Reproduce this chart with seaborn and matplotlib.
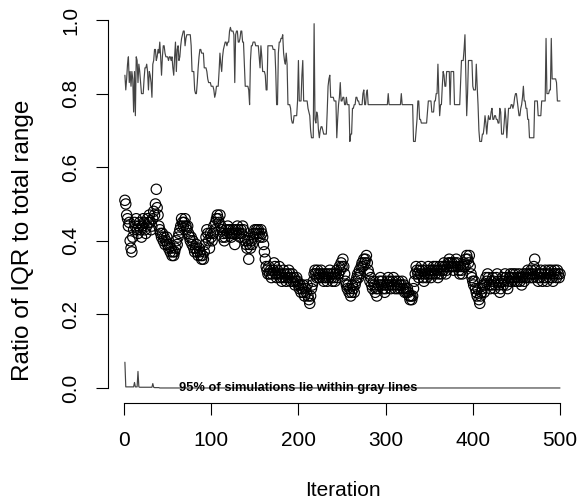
import numpy as np
import pandas as pd
import matplotlib
matplotlib.use("Agg")
import matplotlib.pyplot as plt
import seaborn as sns

# ---------------- data ----------------
iqr_ratio = [
    0.51, 0.50, 0.47, 0.46, 0.44, 0.45, 0.40, 0.38, 0.37, 0.41, 0.43, 0.45, 0.44, 0.46, 0.43, 0.42, 0.44, 0.45, 0.43, 0.41, 0.44, 0.46, 0.45, 0.43, 0.42,
    0.44, 0.46, 0.45, 0.47, 0.45, 0.43, 0.44, 0.46, 0.48, 0.47, 0.50, 0.54, 0.49, 0.47, 0.44, 0.43, 0.42, 0.41, 0.42, 0.40, 0.41, 0.39, 0.40, 0.41, 0.39,
    0.38, 0.39, 0.37, 0.38, 0.36, 0.37, 0.36, 0.37, 0.38, 0.40, 0.39, 0.41, 0.42, 0.43, 0.44, 0.46, 0.45, 0.44, 0.45, 0.46, 0.44, 0.43, 0.44, 0.42, 0.41,
    0.40, 0.41, 0.39, 0.40, 0.38, 0.37, 0.38, 0.39, 0.37, 0.36, 0.38, 0.37, 0.36, 0.35, 0.36, 0.35, 0.37, 0.39, 0.41, 0.43, 0.42, 0.40, 0.38, 0.42, 0.41,
    0.40, 0.42, 0.44, 0.43, 0.45, 0.46, 0.47, 0.46, 0.45, 0.47, 0.44, 0.43, 0.41, 0.42, 0.40, 0.41, 0.43, 0.42, 0.44, 0.43, 0.42, 0.43, 0.41, 0.42, 0.43,
    0.42, 0.39, 0.43, 0.42, 0.44, 0.43, 0.42, 0.41, 0.43, 0.42, 0.44, 0.43, 0.41, 0.40, 0.39, 0.38, 0.40, 0.35, 0.39, 0.38, 0.40, 0.39, 0.41, 0.42, 0.43,
    0.42, 0.43, 0.42, 0.43, 0.42, 0.41, 0.43, 0.42, 0.41, 0.39, 0.37, 0.35, 0.33, 0.32, 0.31, 0.33, 0.31, 0.32, 0.30, 0.31, 0.32, 0.34, 0.33, 0.31, 0.30,
    0.32, 0.31, 0.33, 0.30, 0.31, 0.29, 0.30, 0.32, 0.31, 0.30, 0.29, 0.31, 0.30, 0.32, 0.31, 0.29, 0.30, 0.31, 0.29, 0.30, 0.28, 0.29, 0.30, 0.29, 0.28,
    0.27, 0.28, 0.26, 0.27, 0.28, 0.26, 0.25, 0.27, 0.26, 0.28, 0.25, 0.24, 0.23, 0.25, 0.27, 0.28, 0.29, 0.31, 0.32, 0.31, 0.30, 0.32, 0.31, 0.30, 0.31,
    0.32, 0.30, 0.31, 0.29, 0.30, 0.31, 0.30, 0.29, 0.31, 0.30, 0.32, 0.31, 0.30, 0.29, 0.31, 0.30, 0.29, 0.31, 0.32, 0.30, 0.31, 0.33, 0.32, 0.34, 0.33,
    0.35, 0.33, 0.31, 0.29, 0.28, 0.27, 0.28, 0.26, 0.27, 0.25, 0.26, 0.28, 0.27, 0.26, 0.28, 0.29, 0.30, 0.31, 0.30, 0.32, 0.31, 0.33, 0.34, 0.33, 0.35,
    0.34, 0.35, 0.36, 0.34, 0.32, 0.31, 0.29, 0.30, 0.28, 0.27, 0.29, 0.28, 0.26, 0.27, 0.25, 0.27, 0.28, 0.29, 0.30, 0.28, 0.29, 0.27, 0.28, 0.26, 0.27,
    0.28, 0.29, 0.30, 0.28, 0.29, 0.27, 0.28, 0.29, 0.30, 0.28, 0.27, 0.29, 0.28, 0.27, 0.29, 0.28, 0.27, 0.28, 0.29, 0.27, 0.28, 0.26, 0.27, 0.26, 0.27,
    0.26, 0.25, 0.24, 0.25, 0.24, 0.25, 0.27, 0.29, 0.31, 0.33, 0.32, 0.31, 0.30, 0.32, 0.31, 0.33, 0.32, 0.30, 0.29, 0.31, 0.32, 0.30, 0.31, 0.33, 0.32,
    0.31, 0.30, 0.32, 0.31, 0.33, 0.32, 0.31, 0.33, 0.32, 0.30, 0.31, 0.33, 0.32, 0.31, 0.33, 0.32, 0.34, 0.33, 0.31, 0.32, 0.33, 0.34, 0.35, 0.34, 0.33,
    0.34, 0.33, 0.32, 0.34, 0.33, 0.35, 0.34, 0.33, 0.32, 0.31, 0.33, 0.32, 0.31, 0.33, 0.34, 0.33, 0.35, 0.36, 0.35, 0.34, 0.36, 0.33, 0.31, 0.30, 0.29,
    0.28, 0.29, 0.27, 0.26, 0.25, 0.27, 0.24, 0.23, 0.25, 0.26, 0.27, 0.28, 0.26, 0.28, 0.30, 0.29, 0.31, 0.30, 0.28, 0.27, 0.29, 0.28, 0.30, 0.29, 0.27,
    0.28, 0.30, 0.31, 0.29, 0.28, 0.26, 0.27, 0.29, 0.30, 0.28, 0.29, 0.31, 0.30, 0.28, 0.27, 0.29, 0.30, 0.31, 0.29, 0.30, 0.31, 0.30, 0.29, 0.31, 0.30,
    0.29, 0.30, 0.31, 0.29, 0.30, 0.28, 0.30, 0.31, 0.29, 0.30, 0.31, 0.30, 0.32, 0.31, 0.30, 0.31, 0.32, 0.30, 0.31, 0.33, 0.35, 0.32, 0.31, 0.30, 0.29,
    0.31, 0.30, 0.32, 0.31, 0.29, 0.30, 0.31, 0.32, 0.30, 0.29, 0.31, 0.32, 0.30, 0.31, 0.32, 0.30, 0.29, 0.31, 0.32, 0.31, 0.30, 0.32, 0.31, 0.30, 0.31,
]

upper_gray = [
    0.85, 0.81, 0.84, 0.88, 0.90, 0.83, 0.86, 0.82, 0.86, 0.84, 0.75, 0.86, 0.74, 0.90, 0.89, 0.83, 0.88, 0.86, 0.83, 0.80, 0.80, 0.80, 0.84, 0.87, 0.87,
    0.88, 0.86, 0.81, 0.86, 0.85, 0.83, 0.79, 0.88, 0.89, 0.92, 0.92, 0.89, 0.90, 0.92, 0.91, 0.94, 0.90, 0.85, 0.90, 0.93, 0.93, 0.91, 0.90, 0.90, 0.90,
    0.89, 0.90, 0.90, 0.89, 0.90, 0.87, 0.85, 0.90, 0.94, 0.86, 0.92, 0.93, 0.89, 0.90, 0.93, 0.95, 0.96, 0.97, 0.97, 0.93, 0.95, 0.96, 0.96, 0.96, 0.96,
    0.96, 0.93, 0.86, 0.86, 0.86, 0.81, 0.80, 0.80, 0.83, 0.87, 0.90, 0.92, 0.92, 0.91, 0.91, 0.91, 0.87, 0.87, 0.87, 0.86, 0.84, 0.83, 0.83, 0.83, 0.82,
    0.82, 0.82, 0.81, 0.79, 0.80, 0.82, 0.82, 0.82, 0.86, 0.91, 0.88, 0.86, 0.90, 0.92, 0.93, 0.94, 0.94, 0.93, 0.94, 0.94, 0.97, 0.98, 0.97, 0.97, 0.97,
    0.96, 0.83, 0.96, 0.97, 0.97, 0.94, 0.94, 0.95, 0.97, 0.97, 0.94, 0.94, 0.88, 0.82, 0.82, 0.82, 0.82, 0.81, 0.77, 0.89, 0.93, 0.93, 0.94, 0.94, 0.94,
    0.93, 0.93, 0.93, 0.93, 0.90, 0.87, 0.93, 0.90, 0.86, 0.86, 0.86, 0.85, 0.81, 0.81, 0.93, 0.93, 0.93, 0.93, 0.93, 0.93, 0.92, 0.92, 0.92, 0.86, 0.77,
    0.77, 0.91, 0.94, 0.94, 0.95, 0.95, 0.96, 0.91, 0.89, 0.88, 0.91, 0.88, 0.77, 0.77, 0.77, 0.76, 0.73, 0.72, 0.72, 0.74, 0.74, 0.74, 0.74, 0.78, 0.89,
    0.78, 0.78, 0.78, 0.85, 0.89, 0.78, 0.78, 0.78, 0.78, 0.78, 0.76, 0.75, 0.74, 0.70, 0.68, 0.68, 0.68, 0.99, 0.73, 0.72, 0.75, 0.74, 0.70, 0.68, 0.70,
    0.71, 0.71, 0.70, 0.69, 0.69, 0.69, 0.69, 0.75, 0.82, 0.84, 0.85, 0.79, 0.79, 0.79, 0.79, 0.78, 0.78, 0.78, 0.68, 0.73, 0.77, 0.79, 0.83, 0.78, 0.78,
    0.79, 0.79, 0.77, 0.77, 0.79, 0.77, 0.77, 0.77, 0.67, 0.69, 0.69, 0.76, 0.76, 0.77, 0.77, 0.79, 0.79, 0.78, 0.78, 0.77, 0.77, 0.77, 0.77, 0.80, 0.81,
    0.77, 0.77, 0.80, 0.81, 0.77, 0.77, 0.77, 0.77, 0.77, 0.77, 0.77, 0.77, 0.77, 0.77, 0.77, 0.77, 0.77, 0.77, 0.77, 0.77, 0.77, 0.77, 0.77, 0.77, 0.77,
    0.77, 0.77, 0.80, 0.77, 0.77, 0.77, 0.77, 0.77, 0.77, 0.77, 0.77, 0.77, 0.77, 0.77, 0.77, 0.77, 0.77, 0.80, 0.77, 0.77, 0.77, 0.77, 0.77, 0.77, 0.77,
    0.77, 0.77, 0.77, 0.77, 0.77, 0.77, 0.67, 0.67, 0.67, 0.70, 0.73, 0.78, 0.78, 0.73, 0.73, 0.72, 0.72, 0.72, 0.72, 0.72, 0.72, 0.72, 0.75, 0.78, 0.78,
    0.78, 0.78, 0.75, 0.75, 0.75, 0.78, 0.78, 0.80, 0.80, 0.88, 0.80, 0.74, 0.77, 0.77, 0.82, 0.86, 0.85, 0.82, 0.82, 0.86, 0.86, 0.86, 0.86, 0.77, 0.86,
    0.86, 0.86, 0.86, 0.77, 0.77, 0.77, 0.77, 0.77, 0.77, 0.77, 0.83, 0.89, 0.89, 0.89, 0.92, 0.96, 0.85, 0.74, 0.80, 0.89, 0.89, 0.89, 0.89, 0.89, 0.82,
    0.81, 0.81, 0.81, 0.88, 0.82, 0.77, 0.70, 0.67, 0.67, 0.67, 0.69, 0.69, 0.71, 0.74, 0.72, 0.69, 0.72, 0.74, 0.73, 0.73, 0.75, 0.76, 0.73, 0.73, 0.74,
    0.74, 0.73, 0.73, 0.72, 0.72, 0.76, 0.75, 0.69, 0.69, 0.69, 0.72, 0.76, 0.73, 0.68, 0.72, 0.76, 0.76, 0.76, 0.77, 0.77, 0.76, 0.77, 0.79, 0.80, 0.80,
    0.78, 0.76, 0.74, 0.74, 0.76, 0.77, 0.79, 0.82, 0.78, 0.78, 0.76, 0.76, 0.73, 0.73, 0.68, 0.68, 0.68, 0.68, 0.68, 0.68, 0.78, 0.78, 0.78, 0.78, 0.74,
    0.74, 0.74, 0.74, 0.78, 0.78, 0.78, 0.78, 0.78, 0.95, 0.80, 0.80, 0.80, 0.81, 0.81, 0.95, 0.84, 0.84, 0.84, 0.84, 0.84, 0.83, 0.78, 0.78, 0.78, 0.78,
]

lower_gray = [
    0.07, 0.003, 0.003, 0.003, 0.003, 0.003, 0.003, 0.003, 0.003, 0.003, 0.003, 0.015, 0.003, 0.003, 0.003, 0.045, 0.003, 0.002, 0.002, 0.002,
    0.002, 0.002, 0.002, 0.002, 0.002, 0.002, 0.002, 0.002, 0.002, 0.002, 0.002, 0.002, 0.012, 0.002, 0.001, 0.001, 0.001, 0.001, 0.001, 0.001,
    0, 0, 0, 0, 0, 0, 0, 0, 0, 0, 0, 0, 0, 0, 0, 0, 0, 0, 0, 0, 0, 0, 0, 0, 0, 0, 0, 0, 0, 0, 0, 0, 0, 0, 0, 0, 0, 0, 0, 0,
    0, 0, 0, 0, 0, 0, 0, 0, 0, 0, 0, 0, 0, 0, 0, 0, 0, 0, 0, 0, 0, 0, 0, 0, 0, 0, 0, 0, 0, 0, 0, 0, 0, 0, 0, 0, 0, 0, 0, 0,
    0, 0, 0, 0, 0, 0, 0, 0, 0, 0, 0, 0, 0, 0, 0, 0, 0, 0, 0, 0, 0, 0, 0, 0, 0, 0, 0, 0, 0, 0, 0, 0, 0, 0, 0, 0, 0, 0, 0, 0,
    0, 0, 0, 0, 0, 0, 0, 0, 0, 0, 0, 0, 0, 0, 0, 0, 0, 0, 0, 0, 0, 0, 0, 0, 0, 0, 0, 0, 0, 0, 0, 0, 0, 0, 0, 0, 0, 0, 0, 0,
    0, 0, 0, 0, 0, 0, 0, 0, 0, 0, 0, 0, 0, 0, 0, 0, 0, 0, 0, 0, 0, 0, 0, 0, 0, 0, 0, 0, 0, 0, 0, 0, 0, 0, 0, 0, 0, 0, 0, 0,
    0, 0, 0, 0, 0, 0, 0, 0, 0, 0, 0, 0, 0, 0, 0, 0, 0, 0, 0, 0, 0, 0, 0, 0, 0, 0, 0, 0, 0, 0, 0, 0, 0, 0, 0, 0, 0, 0, 0, 0,
    0, 0, 0, 0, 0, 0, 0, 0, 0, 0, 0, 0, 0, 0, 0, 0, 0, 0, 0, 0, 0, 0, 0, 0, 0, 0, 0, 0, 0, 0, 0, 0, 0, 0, 0, 0, 0, 0, 0, 0,
    0, 0, 0, 0, 0, 0, 0, 0, 0, 0, 0, 0, 0, 0, 0, 0, 0, 0, 0, 0, 0, 0, 0, 0, 0, 0, 0, 0, 0, 0, 0, 0, 0, 0, 0, 0, 0, 0, 0, 0,
    0, 0, 0, 0, 0, 0, 0, 0, 0, 0, 0, 0, 0, 0, 0, 0, 0, 0, 0, 0, 0, 0, 0, 0, 0, 0, 0, 0, 0, 0, 0, 0, 0, 0, 0, 0, 0, 0, 0, 0,
    0, 0, 0, 0, 0, 0, 0, 0, 0, 0, 0, 0, 0, 0, 0, 0, 0, 0, 0, 0, 0, 0, 0, 0, 0, 0, 0, 0, 0, 0, 0, 0, 0, 0, 0, 0, 0, 0, 0, 0,
    0, 0, 0, 0, 0, 0, 0, 0, 0, 0, 0, 0, 0, 0, 0, 0, 0, 0, 0, 0, 0, 0, 0, 0, 0, 0, 0, 0, 0, 0, 0, 0, 0, 0, 0, 0, 0, 0, 0, 0,
    0, 0, 0, 0, 0, 0, 0, 0, 0, 0, 0, 0, 0, 0, 0, 0, 0, 0, 0, 0,
]

x_ticks = [0, 100, 200, 300, 400, 500]
y_ticks = [0.0, 0.2, 0.4, 0.6, 0.8, 1.0]
y_tick_labels = ["0.0", "0.2", "0.4", "0.6", "0.8", "1.0"]
x_label = "Iteration"
y_label = "Ratio of IQR to total range"
note_text = "95% of simulations lie within gray lines"

iterations = np.arange(1, len(iqr_ratio) + 1)
df = pd.DataFrame({"iteration": iterations, "ratio": iqr_ratio})
df_up = pd.DataFrame({"iteration": np.arange(1, len(upper_gray) + 1), "value": upper_gray})
df_lo = pd.DataFrame({"iteration": np.arange(1, len(lower_gray) + 1), "value": lower_gray})

# ---------------- style ----------------
sns.set_theme(style="white")
plt.rcParams["font.family"] = ["Liberation Sans", "DejaVu Sans"]

W, H, DPI = 579, 503, 100
fig = plt.figure(figsize=(W / DPI, H / DPI), dpi=DPI)
left, right = 107.5, 577.4
bottom, top = 402.7, 5.3
ax = fig.add_axes([left / W, 1 - bottom / H, (right - left) / W, (bottom - top) / H])

line_col = "#444444"
sns.lineplot(data=df_up, x="iteration", y="value", ax=ax, color=line_col,
             linewidth=0.85, estimator=None)
sns.lineplot(data=df_lo, x="iteration", y="value", ax=ax, color=line_col,
             linewidth=0.85, estimator=None)
sns.scatterplot(data=df, x="iteration", y="ratio", ax=ax, s=55, marker="o",
                facecolor="none", edgecolor="black", linewidth=0.85, zorder=3)

ax.text(200, 0.0, note_text, ha="center", va="center", fontsize=9.3,
        fontweight="bold", color="black", zorder=4)

n = len(iqr_ratio)
pad = 0.04 * (n - 1)
ax.set_xlim(1 - pad, n + pad)
ax.set_ylim(-0.04, 1.04)

for s in ["top", "right"]:
    ax.spines[s].set_visible(False)
for s in ["left", "bottom"]:
    ax.spines[s].set_color("black")
    ax.spines[s].set_linewidth(0.8)
ax.spines["bottom"].set_bounds(0, 500)
ax.spines["left"].set_bounds(0, 1)

ax.set_xticks(x_ticks)
ax.set_xticklabels([str(t) for t in x_ticks])
ax.set_yticks(y_ticks)
ax.set_yticklabels(y_tick_labels)
ax.tick_params(axis="both", which="major", direction="out", length=8.5, width=0.8,
               color="black", labelsize=15, labelcolor="black",
               bottom=True, left=True, top=False, right=False)
ax.tick_params(axis="x", pad=12)
ax.tick_params(axis="y", pad=11, labelrotation=90)
for lab in ax.get_yticklabels():
    lab.set_va("center")

ax.set_xlabel(x_label, fontsize=15, color="black")
ax.set_ylabel(y_label, fontsize=17.5, color="black")
ax.xaxis.set_label_coords((342.5 - left) / (right - left), -(490 - bottom) / (bottom - top))
ax.yaxis.set_label_coords((23 - left) / (right - left), (bottom - 240) / (bottom - top))
ax.xaxis.label.set_va("center")
ax.yaxis.label.set_va("center")
ax.grid(False)
ax.set_facecolor("white")
fig.patch.set_facecolor("white")

fig.savefig("out.png", dpi=DPI)
